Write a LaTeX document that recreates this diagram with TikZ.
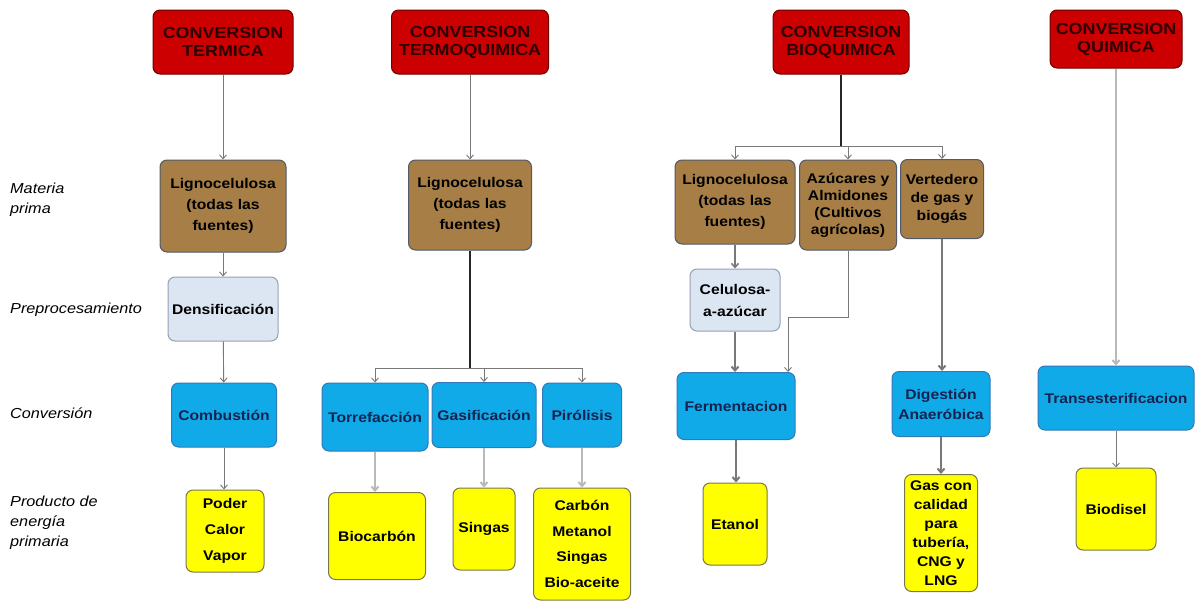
\documentclass[tikz,border=0pt]{standalone}
\usepackage{fontspec}
\setmainfont{Liberation Sans}[FakeStretch=1.12]
\usetikzlibrary{arrows.meta}
\definecolor{redfill}{RGB}{204,0,0}
\definecolor{redline}{RGB}{110,0,0}
\definecolor{redtext}{RGB}{45,0,0}
\definecolor{brownfill}{RGB}{166,126,70}
\definecolor{brownline}{RGB}{80,90,105}
\definecolor{lightfill}{RGB}{220,230,242}
\definecolor{lightline}{RGB}{150,160,180}
\definecolor{bluefill}{RGB}{17,170,232}
\definecolor{blueline}{RGB}{50,120,185}
\definecolor{bluetext}{RGB}{20,35,80}
\definecolor{yellowfill}{RGB}{255,255,0}
\definecolor{yellowline}{RGB}{120,120,80}
\definecolor{connline}{RGB}{120,120,120}
\definecolor{paleline}{RGB}{185,185,185}
\begin{document}
\begin{tikzpicture}[x=1pt,y=-1pt,
  box/.style={rounded corners=7pt, draw, line width=1pt, align=center, inner sep=0pt,
    font=\bfseries\fontsize{14}{21}\selectfont},
  titlebox/.style={box, fill=redfill, draw=redline, text=redtext,
    font=\bfseries\fontsize{16}{18}\selectfont},
  brownbox/.style={box, fill=brownfill, draw=brownline},
  lightbox/.style={box, fill=lightfill, draw=lightline},
  bluebox/.style={box, fill=bluefill, draw=blueline, text=bluetext},
  yellowbox/.style={box, fill=yellowfill, draw=yellowline},
  rowlabel/.style={anchor=west, align=left, inner sep=0pt,
    font=\itshape\fontsize{14.5}{20}\selectfont},
  conn/.style={draw=connline, line width=0.9pt, -{Straight Barb[length=4pt,width=7pt]}},
  connthick/.style={draw=connline, line width=2pt, -{Straight Barb[length=4pt,width=7pt]}},
  connpale/.style={draw=paleline, line width=2pt, -{Straight Barb[length=4pt,width=7pt]}},
  trunk/.style={draw=black!85, line width=2pt}
]
\useasboundingbox[fill=white] (0,0) rectangle (1200,605);

% row labels
\node[rowlabel] (lab1) at (10,200) {Materia\\prima};
\node[rowlabel] (lab2) at (10,310) {Preprocesamiento};
\node[rowlabel] (lab3) at (10,413) {Conversión};
\node[rowlabel] (lab4) at (10,523) {Producto de\\energía\\primaria};

% column 1
\node[titlebox, minimum width=140pt, minimum height=64pt] (t1) at (223,42) {CONVERSION\\TERMICA};
\node[brownbox, minimum width=126pt, minimum height=92pt] (l1) at (223,206) {Lignocelulosa\\(todas las\\fuentes)};
\node[lightbox, minimum width=110pt, minimum height=64pt] (p1) at (223,309) {Densificación};
\node[bluebox, minimum width=105pt, minimum height=64pt] (c1) at (224,415) {Combustión};
\node[yellowbox, minimum width=78pt, minimum height=82pt, font=\bfseries\fontsize{14}{26}\selectfont] (e1) at (225,531) {Poder\\Calor\\Vapor};
\draw[conn] (t1) -- (l1);
\draw[conn] (l1) -- (p1);
\draw[conn] (p1) -- (c1);
\draw[conn] (c1.south) -- (c1.south |- e1.north);

% column 2
\node[titlebox, minimum width=157pt, minimum height=64pt] (t2) at (470,42) {CONVERSION\\TERMOQUIMICA};
\node[brownbox, minimum width=123pt, minimum height=90pt] (l2) at (470,205) {Lignocelulosa\\(todas las\\fuentes)};
\node[bluebox, minimum width=106pt, minimum height=68pt] (tor) at (375,417) {Torrefacción};
\node[bluebox, minimum width=104pt, minimum height=65pt] (gas) at (484,415) {Gasificación};
\node[bluebox, minimum width=79pt, minimum height=64pt] (pir) at (582,415) {Pirólisis};
\node[yellowbox, minimum width=97pt, minimum height=87pt] (bio) at (377,536) {Biocarbón};
\node[yellowbox, minimum width=62pt, minimum height=82pt] (sin) at (484,529) {Singas};
\node[yellowbox, minimum width=97pt, minimum height=112pt, font=\bfseries\fontsize{14}{25.5}\selectfont] (prod) at (582,544) {Carbón\\Metanol\\Singas\\Bio-aceite};
\coordinate (b2) at (470,368);
\draw[conn] (t2) -- (l2);
\draw[trunk] (l2.south) -- (b2);
\draw[conn] (b2) -| (tor.north);
\draw[conn] (b2) -| (gas.north);
\draw[conn] (b2) -| (pir.north);
\draw[connpale] (tor.south) -- (tor.south |- bio.north);
\draw[connpale] (gas) -- (sin);
\draw[connpale] (pir) -- (prod);

% column 3
\node[titlebox, minimum width=136pt, minimum height=64pt] (t3) at (841,42) {CONVERSION\\BIOQUIMICA};
\node[brownbox, minimum width=120pt, minimum height=84pt] (l3) at (735,202) {Lignocelulosa\\(todas las\\fuentes)};
\node[brownbox, minimum width=97pt, minimum height=90pt, font=\bfseries\fontsize{14}{17}\selectfont] (az) at (848,205) {Azúcares y\\Almidones\\(Cultivos\\agrícolas)};
\node[brownbox, minimum width=83pt, minimum height=79pt, font=\bfseries\fontsize{14}{18}\selectfont] (ve) at (942,199) {Vertedero\\de gas y\\biogás};
\node[lightbox, minimum width=90pt, minimum height=62pt, font=\bfseries\fontsize{14}{22}\selectfont] (cel) at (735,300) {Celulosa-\\a-azúcar};
\node[bluebox, minimum width=118pt, minimum height=67pt] (fer) at (736,406) {Fermentacion};
\node[yellowbox, minimum width=64pt, minimum height=82pt] (et) at (735,524) {Etanol};
\node[bluebox, minimum width=98pt, minimum height=65pt, font=\bfseries\fontsize{14}{20}\selectfont] (dig) at (941,404) {Digestión\\Anaeróbica};
\node[yellowbox, minimum width=73pt, minimum height=117pt, font=\bfseries\fontsize{14}{19}\selectfont] (gasp) at (941,533) {Gas con\\calidad\\para\\tubería,\\CNG y\\LNG};
\coordinate (b3) at (841,146);
\coordinate (azk) at (788,317);
\draw[trunk] (t3.south) -- (b3);
\draw[conn] (b3) -| (l3.north);
\draw[conn] (b3) -| (az.north);
\draw[conn] (b3) -| (ve.north);
\draw[connthick, line width=1.5pt] (l3.south) -- (l3.south |- cel.north);
\draw[connthick] (cel.south) -- (cel.south |- fer.north);
\draw[conn] (az.south) |- (azk) -- (azk |- fer.north);
\draw[connthick] (fer.south) -- (fer.south |- et.north);
\draw[connthick] (ve.south) -- (ve.south |- dig.north);
\draw[connthick] (dig) -- (gasp);

% column 4
\node[titlebox, minimum width=132pt, minimum height=58pt] (t4) at (1116,39) {CONVERSION\\QUIMICA};
\node[bluebox, minimum width=156pt, minimum height=64pt] (tr) at (1116,398) {Transesterificacion};
\node[yellowbox, minimum width=80pt, minimum height=82pt] (bd) at (1116,509) {Biodisel};
\draw[connpale] (t4) -- (tr);
\draw[conn] (tr) -- (bd);
\end{tikzpicture}
\end{document}
